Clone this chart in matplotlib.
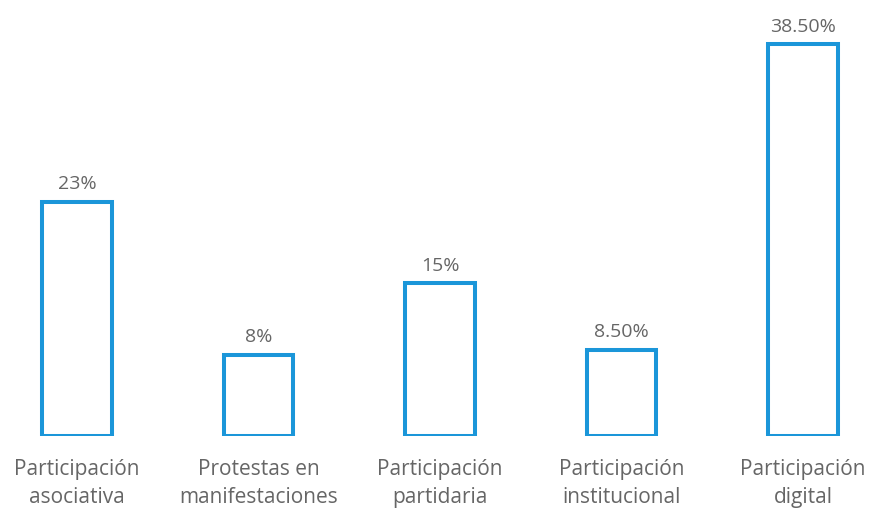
import matplotlib
matplotlib.use("Agg")
import matplotlib.pyplot as plt

categories = ["Participación\nasociativa", "Protestas en\nmanifestaciones",
              "Participación\npartidaria", "Participación\ninstitucional",
              "Participación\ndigital"]
values = [23, 8, 15, 8.5, 38.5]
value_labels = ["23%", "8%", "15%", "8.50%", "38.50%"]

blue = "#1b96d9"
grey = "#666666"
plt.rcParams['font.family'] = ['Open Sans', 'DejaVu Sans']

fig = plt.figure(figsize=(8.69, 5.10), dpi=100)
ax = fig.add_axes([0, 73 / 510, 1, 437 / 510])

x = range(len(values))
ax.bar(x, values, width=0.385, facecolor="white", edgecolor=blue, linewidth=2.9)

for i, (v, lab) in enumerate(zip(values, value_labels)):
    ax.annotate(lab, (i, v), xytext=(0, 7), textcoords="offset points",
                ha="center", va="bottom", fontsize=14, color=grey)

for i, cat in enumerate(categories):
    ax.annotate(cat, (i, 0), xytext=(0, -16), textcoords="offset points",
                ha="center", va="top", fontsize=15, color=grey, linespacing=1.4)

ax.set_xlim(-77 / 181.5, (869 - 77) / 181.5)
ax.set_ylim(0, 437 / 10.17)
ax.axis("off")

fig.savefig("out.png", dpi=100)
